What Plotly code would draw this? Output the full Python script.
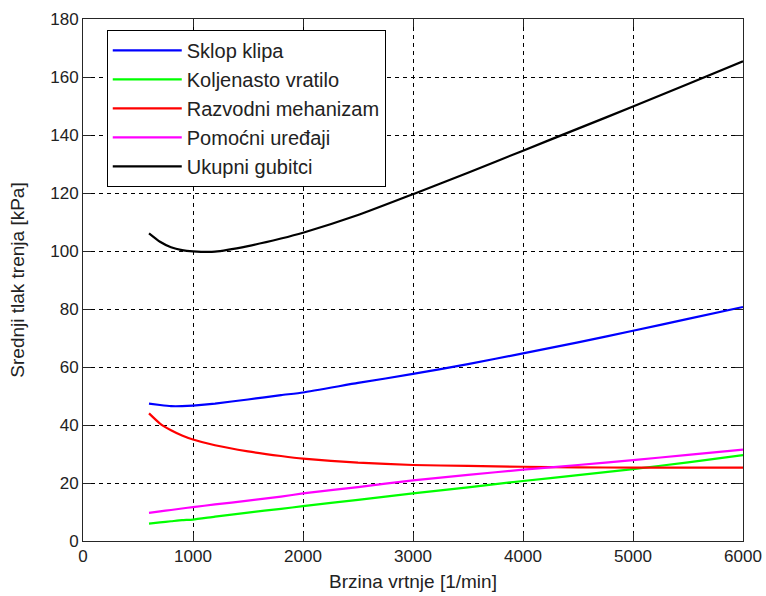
import plotly.graph_objects as go

rpm = [600, 700, 800, 900, 1000, 1200, 1500, 1800, 2000, 2500, 3000, 3500, 4000, 4500, 5000, 5500, 6000]

sklop_klipa = [47.4, 46.9, 46.5, 46.5, 46.7, 47.4, 48.8, 50.3, 51.2, 54.5, 57.6, 61.0, 64.7, 68.5, 72.5, 76.6, 80.7]
koljenasto_vratilo = [6.0, 6.4, 6.8, 7.2, 7.4, 8.4, 9.8, 11.1, 12.0, 14.2, 16.4, 18.5, 20.7, 22.7, 24.8, 27.1, 29.6]
razvodni_mehanizam = [44.0, 40.5, 38.2, 36.4, 35.0, 33.0, 30.9, 29.3, 28.4, 27.0, 26.2, 25.9, 25.6, 25.4, 25.3, 25.3, 25.3]
pomocni_uredaji = [9.7, 10.2, 10.7, 11.2, 11.7, 12.6, 13.9, 15.3, 16.4, 18.6, 20.9, 22.8, 24.6, 26.2, 27.9, 29.7, 31.5]
ukupni_gubitci = [106.1, 103.2, 101.3, 100.3, 99.9, 99.8, 101.7, 104.3, 106.3, 112.4, 119.6, 127.0, 134.6, 142.2, 149.8, 157.6, 165.4]

series = [
    ("Sklop klipa", sklop_klipa, "#0000ff"),
    ("Koljenasto vratilo", koljenasto_vratilo, "#00ff00"),
    ("Razvodni mehanizam", razvodni_mehanizam, "#ff0000"),
    ("Pomoćni uređaji", pomocni_uredaji, "#ff00ff"),
    ("Ukupni gubitci", ukupni_gubitci, "#000000"),
]

x_ticks = [0, 1000, 2000, 3000, 4000, 5000, 6000]
y_ticks = [0, 20, 40, 60, 80, 100, 120, 140, 160, 180]

fig = go.Figure()
for i, (name, vals, col) in enumerate(series):
    fig.add_trace(go.Scatter(
        x=rpm, y=vals, name=name, mode="lines", legendgroup=f"g{i}",
        line=dict(color=col, width=2.2, shape="spline", smoothing=0.5),
    ))

FONT = "Liberation Sans, Arial, sans-serif"
axis_common = dict(
    showline=True, linecolor="#262626", linewidth=1, mirror="ticks",
    ticks="inside", ticklen=8, tickcolor="#262626", tickwidth=1,
    showgrid=True, gridcolor="#000000", gridwidth=1, griddash="4px,4px",
    zeroline=False, automargin=False,
    tickfont=dict(family=FONT, size=17, color="#222222"),
)

fig.update_layout(
    width=766, height=596,
    margin=dict(l=83, r=23, t=19, b=55),
    paper_bgcolor="white", plot_bgcolor="white",
    font=dict(family=FONT, color="#222222"),
    showlegend=True,
    legend=dict(
        x=0.036, y=0.979, xanchor="left", yanchor="top",
        bgcolor="white", bordercolor="#000000", borderwidth=1,
        font=dict(family=FONT, size=20, color="#222222"),
        tracegroupgap=1, traceorder="normal", itemwidth=69,
    ),
    xaxis=dict(range=[0, 6000], tickvals=x_ticks,
               title=dict(text="Brzina vrtnje [1/min]", font=dict(family=FONT, size=19), standoff=9),
               **axis_common),
    yaxis=dict(range=[0, 180], tickvals=y_ticks,
               title=dict(text="Srednji tlak trenja [kPa]", font=dict(family=FONT, size=19), standoff=20),
               **axis_common),
)

fig.write_html("out.html", config={"displayModeBar": False},
               post_script="document.body.style.margin='0';")
